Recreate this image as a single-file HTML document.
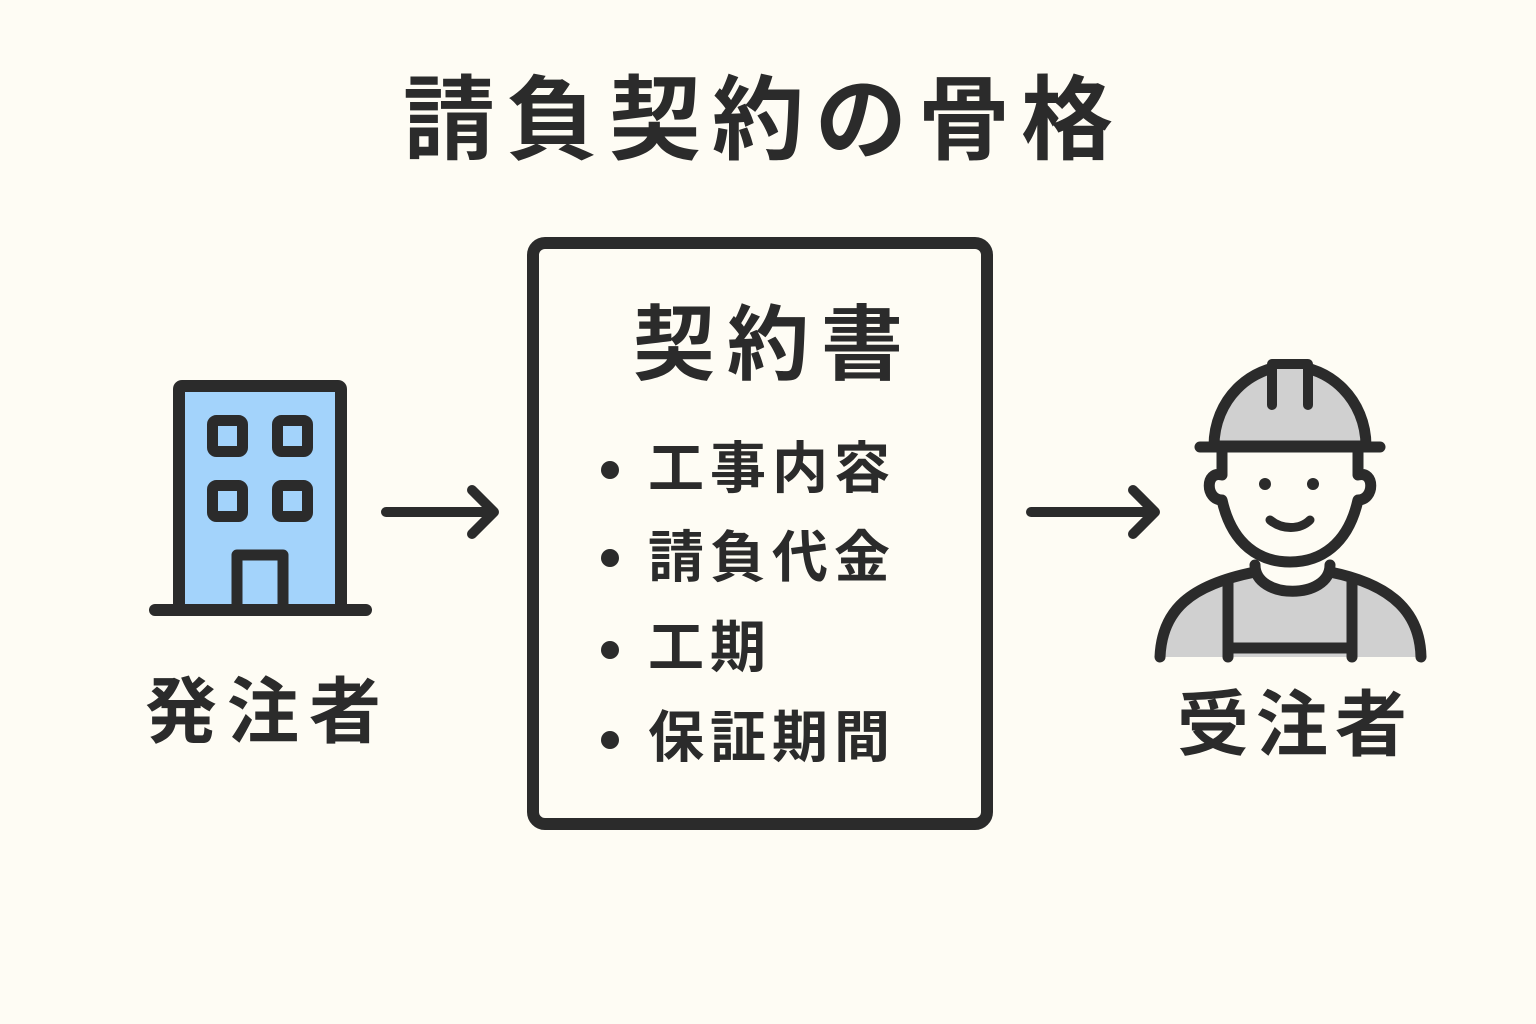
<!DOCTYPE html>
<html><head><meta charset="utf-8"><style>
html,body{margin:0;padding:0;background:#fefcf4;}
body{width:1536px;height:1024px;position:relative;overflow:hidden;font-family:"Liberation Sans","Noto Sans CJK JP",sans-serif;color:#2b2b2b;font-weight:bold;}
.t{position:absolute;white-space:nowrap;line-height:1;}
</style></head><body>
<svg width="1536" height="1024" style="position:absolute;left:0;top:0" fill="none" stroke="#2b2b2b" stroke-linecap="round" stroke-linejoin="round">
<rect x="179" y="386" width="162" height="224" rx="3" fill="#a3d3fb" stroke-width="12"/>
<rect x="212.5" y="420.5" width="30" height="31" rx="4" fill="#a3d3fb" stroke-width="11"/>
<rect x="277.5" y="420.5" width="30" height="31" rx="4" fill="#a3d3fb" stroke-width="11"/>
<rect x="212.5" y="485.5" width="30" height="31" rx="4" fill="#a3d3fb" stroke-width="11"/>
<rect x="277.5" y="485.5" width="30" height="31" rx="4" fill="#a3d3fb" stroke-width="11"/>
<path d="M237 610 V555 H283 V610" fill="#a3d3fb" stroke-width="11"/>
<line x1="155" y1="610" x2="366" y2="610" stroke-width="12"/>
<path d="M386 512 H494 M472 490 L494 512 L472 534" stroke-width="10"/>
<path d="M1031 512 H1155 M1133 490 L1155 512 L1133 534" stroke-width="10"/>
<rect x="533" y="243" width="454" height="581" rx="12" stroke-width="12"/>
<path d="M1160 657 C1162 610 1190 585 1240 575 L1340 575 C1395 585 1420 615 1421 657 Z" fill="#d0d0d0" stroke="none"/>
<path d="M1160 657 C1162 610 1190 585 1255 572 M1421 657 C1420 615 1395 585 1330 572" stroke-width="11"/>
<path d="M1255 565 C1255 600 1330 600 1330 565" fill="#fefcf4" stroke-width="11"/>
<path d="M1228 582 V657 M1352 582 V657 M1228 648 H1352" stroke-width="11"/>
<path d="M1222 450 V475 C1205 470 1205 500 1222 500 C1232 545 1260 562 1290 562 C1320 562 1348 545 1358 500 C1375 500 1375 470 1358 475 V450" fill="#fefcf4" stroke-width="11"/>
<circle cx="1265" cy="484" r="6" fill="#2b2b2b" stroke="none"/>
<circle cx="1313" cy="484" r="6" fill="#2b2b2b" stroke="none"/>
<path d="M1270 520 C1282 530 1300 530 1310 520" stroke-width="9"/>
<path d="M1214 446 C1214 400 1250 366 1290 366 C1330 366 1366 400 1366 446 Z" fill="#d0d0d0" stroke-width="11"/>
<path d="M1272 405 V364 H1308 V405" fill="#d0d0d0" stroke-width="10"/>
<line x1="1200" y1="447" x2="1380" y2="447" stroke-width="11"/>
<circle cx="610" cy="470" r="9" fill="#2b2b2b" stroke="none"/>
<circle cx="610" cy="558" r="9" fill="#2b2b2b" stroke="none"/>
<circle cx="610" cy="650" r="9" fill="#2b2b2b" stroke="none"/>
<circle cx="610" cy="740" r="9" fill="#2b2b2b" stroke="none"/>
</svg>
<div class="t" style="left:403px;top:75px;font-size:92px;letter-spacing:11px">請負契約の骨格</div>
<div class="t" style="left:633px;top:305px;font-size:82px;letter-spacing:12px">契約書</div>
<div class="t" style="left:648px;top:441px;font-size:56px;letter-spacing:6px">工事内容</div>
<div class="t" style="left:648px;top:530px;font-size:56px;letter-spacing:6px">請負代金</div>
<div class="t" style="left:648px;top:620px;font-size:56px;letter-spacing:6px">工期</div>
<div class="t" style="left:648px;top:710px;font-size:56px;letter-spacing:6px">保証期間</div>
<div class="t" style="left:145px;top:677px;font-size:72px;letter-spacing:10px">発注者</div>
<div class="t" style="left:1177px;top:690px;font-size:72px;letter-spacing:7px">受注者</div>
</body></html>
